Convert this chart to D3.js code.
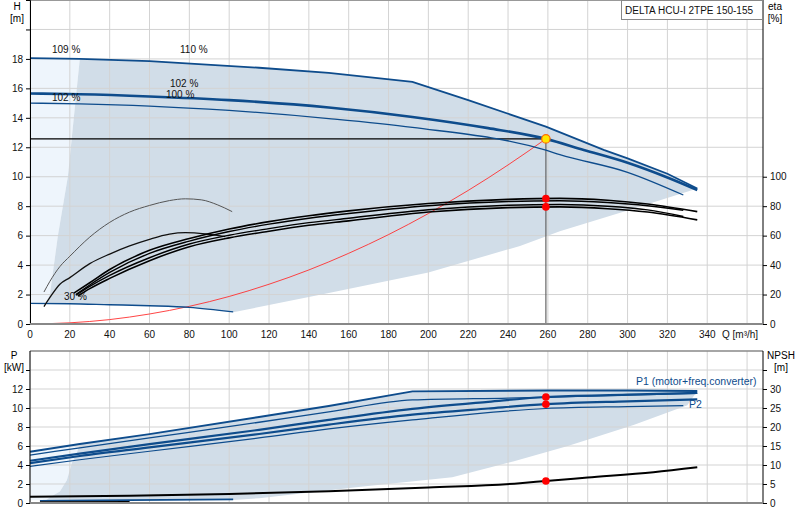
<!DOCTYPE html>
<html>
<head>
<meta charset="utf-8">
<script src="https://cdn.jsdelivr.net/npm/d3@7"></script>
<style>
  body { margin: 0; background: #fff; }
  svg { display: block; font-family: "Liberation Sans", Arial, sans-serif; }
</style>
</head>
<body>
<div id="chart"></div>
<script>
// ---- ticks ----
var qTicks = [0, 20, 40, 60, 80, 100, 120, 140, 160, 180, 200, 220, 240, 260, 280, 300, 320, 340, 360];
var qLabels = [0, 20, 40, 60, 80, 100, 120, 140, 160, 180, 200, 220, 240, 260, 280, 300, 320, 340];
var hTicks = [0, 2, 4, 6, 8, 10, 12, 14, 16, 18, 20];
var hLabels = [0, 2, 4, 6, 8, 10, 12, 14, 16, 18];
var etaTicks = [0, 20, 40, 60, 80, 100];
var pTicks = [0, 2, 4, 6, 8, 10, 12, 14];
var pLabels = [0, 2, 4, 6, 8, 10, 12];
var npshTicks = [0, 5, 10, 15, 20, 25, 30, 35];
var npshLabels = [0, 5, 10, 15, 20, 25, 30];

// ---- head curves (Q m3/h, H m) ----
var hMaxQ = [0, 25, 60, 115, 150, 192, 220, 259, 288, 300, 320, 335];
var hMax  = [18.05, 18.0, 17.85, 17.4, 17.05, 16.44, 15.2, 13.4, 11.82, 11.25, 10.2, 9.2];
var hDutyQ = [0, 25, 60, 100, 150, 192, 230, 259, 278, 300, 320, 335];
var hDuty  = [15.65, 15.6, 15.45, 15.2, 14.7, 14.06, 13.3, 12.57, 11.82, 10.95, 9.95, 9.1];
var hLowQ = [0, 25, 60, 100, 150, 192, 259, 266, 300, 328];
var hLow  = [15.0, 14.95, 14.8, 14.5, 13.95, 13.35, 11.8, 11.5, 10.3, 8.76];
var hMinQ = [0, 20, 40, 60, 80, 102];
var hMin  = [1.4, 1.38, 1.31, 1.24, 1.13, 0.82];
var sysQ = [0, 20, 40, 60, 80, 100, 120, 140, 160, 180, 200, 220, 240, 259];
var sysH = [0, 0.08, 0.3, 0.68, 1.2, 1.87, 2.7, 3.67, 4.8, 6.07, 7.5, 9.07, 10.8, 12.57];

// operating range boundaries (top panel)
var hLeftQ = [8, 10, 14, 19, 22, 25];
var hLeft  = [1.4, 2.0, 6.0, 10.0, 14.0, 18.0];
var hRightQ = [335, 300, 266, 246, 200, 150, 102];
var hRight  = [9.2, 7.7, 6.3, 5.3, 3.5, 2.1, 0.8];

// ---- efficiency curves (Q, eta %) ----
var etaAQ = [22, 30, 40, 60, 80, 100, 120, 140, 160, 200, 240, 266, 290, 310, 335];
var etaA  = [21, 28, 37, 50, 58, 64.5, 69.5, 73.5, 76.8, 81.8, 84.6, 85.3, 84, 81.5, 76.3];
var etaA2Q = [23, 30, 40, 60, 80, 100, 120, 140, 160, 200, 240, 266, 290, 310, 328];
var etaA2  = [20, 26.5, 35, 48, 56.3, 62.8, 67.8, 71.8, 75, 80.3, 83.2, 83.7, 82.5, 80.3, 77.2];
var etaB2Q = [23, 30, 40, 60, 80, 100, 120, 140, 160, 200, 240, 266, 290, 310, 328];
var etaB2  = [19.5, 25.5, 33, 45, 54.3, 60.3, 64.8, 68.8, 71.8, 77.6, 80.6, 81.1, 80, 77.5, 73];
var etaBQ = [24, 30, 40, 60, 80, 100, 120, 140, 160, 200, 240, 266, 290, 310, 335];
var etaB  = [19, 24, 31, 43, 52.5, 58.5, 63, 67, 70, 76, 79, 79.5, 78.3, 76, 70.7];
var etaPart1Q = [7, 10, 15, 20, 30, 40, 50, 60, 70, 78, 86, 94, 101.5];
var etaPart1  = [21.7, 29, 39, 46, 59, 69, 76, 80.5, 83.8, 85, 84.3, 81, 76.3];
var etaPart2Q = [7, 10, 15, 20, 30, 40, 50, 60, 70, 78, 88, 98];
var etaPart2  = [11.8, 18, 27, 31.5, 41, 47.5, 53, 57.5, 61, 62, 61.2, 59.3];

// ---- power curves (Q, P kW) ----
var p1MaxQ = [0, 25, 60, 115, 150, 192, 260, 300, 335];
var p1Max  = [5.4, 6.2, 7.25, 9.05, 10.2, 11.75, 11.85, 11.85, 11.8];
var p2MaxQ = [0, 25, 60, 115, 150, 192, 240, 300, 335];
var p2Max  = [5.05, 5.8, 6.85, 8.5, 9.6, 10.85, 11.05, 11.35, 11.55];
var p1DutyQ = [0, 25, 60, 115, 150, 192, 230, 259, 300, 335];
var p1Duty  = [4.45, 5.2, 6.2, 7.7, 8.75, 9.9, 10.65, 11.16, 11.4, 11.6];
var p2DutyQ = [0, 25, 60, 115, 150, 192, 230, 259, 300, 335];
var p2Duty  = [4.2, 4.95, 5.85, 7.26, 8.25, 9.3, 9.95, 10.4, 10.7, 10.9];
var p2LowQ = [0, 25, 60, 115, 150, 192, 259, 300, 328];
var p2Low  = [3.85, 4.55, 5.45, 6.85, 7.8, 8.75, 9.95, 10.15, 10.25];
var pMinQ = [5, 50, 102];
var pMin  = [0.24, 0.3, 0.38];
var p1MinQ = [5, 50];
var p1Min  = [0.08, 0.1];
var npshQ = [0, 50, 100, 150, 200, 246, 259, 280, 313, 335];
var npsh  = [1.65, 1.9, 2.4, 3.1, 4.1, 5.2, 5.8, 6.7, 8.1, 9.4];

// operating range boundaries (bottom panel)
var pLeftQ = [8, 10, 15, 18.5, 21, 23.5, 25];
var pLeft  = [0.3, 0.6, 1.2, 2.4, 4.2, 5.3, 6.2];
var pRightQ = [335, 330, 303, 270, 243, 212, 166, 115, 102, 8];
var pRight  = [11.8, 10.3, 8.2, 6.0, 4.4, 2.7, 1.7, 0.5, 0.32, 0.3];

// duty point
var dutyQ = 259, dutyH = 12.57;
var dutyEta = [85.1, 79.5];
var dutyP = [11.16, 10.4];
var dutyNpsh = 5.8;

function zip(a, b) { return a.map(function (q, i) { return [q, b[i]]; }); }

var W = 800, H = 520;
var blue = "#0e4c8c", shade = "#d1dde8", pale = "#eef5fc", grid = "#d3d3d3";
var fs = 10;

var svg = d3.select("#chart").append("svg").attr("width", W).attr("height", H);

var x = d3.scaleLinear().domain([0, 368]).range([30, 763]);
var yH = d3.scaleLinear().domain([0, 22]).range([324, 0]);
var yEta = d3.scaleLinear().domain([0, 220]).range([324, 0]);
var yP = d3.scaleLinear().domain([0, 16]).range([503, 351]);
var yN = d3.scaleLinear().domain([0, 40]).range([503, 351]);

function lineFor(ys, curve) {
  return d3.line().x(function (d) { return x(d[0]); }).y(function (d) { return ys(d[1]); }).curve(curve || d3.curveMonotoneX);
}
function polyFor(ys) {
  return d3.line().x(function (d) { return x(d[0]); }).y(function (d) { return ys(d[1]); });
}

// ================= TOP PANEL =================
var gTop = svg.append("g");

// pale region left of operating range
var palePts = [[0, hMax[0]]].concat(zip(hLeftQ, hLeft).reverse()).concat([[0, hMin[0]]]);
gTop.append("path").attr("d", polyFor(yH)(palePts)).attr("fill", pale);

// operating range
var maxPart = zip(hMaxQ, hMax).filter(function (d) { return d[0] >= 25; });
var minPart = zip(hMinQ, hMin).filter(function (d) { return d[0] >= 8; }).reverse();
var rangePts = maxPart.concat(zip(hRightQ, hRight)).concat(minPart).concat(zip(hLeftQ, hLeft));
gTop.append("path").attr("d", polyFor(yH)(rangePts)).attr("fill", shade);

// grid
gTop.selectAll(".vg").data(qTicks).enter().append("line")
  .attr("x1", function (d) { return x(d); }).attr("x2", function (d) { return x(d); })
  .attr("y1", 0).attr("y2", 324).attr("stroke", grid);
gTop.selectAll(".hg").data(hTicks.slice(1)).enter().append("line")
  .attr("x1", 30).attr("x2", 763)
  .attr("y1", function (d) { return yH(d); }).attr("y2", function (d) { return yH(d); }).attr("stroke", grid);
gTop.append("line").attr("x1", 30).attr("x2", 763).attr("y1", 0.5).attr("y2", 0.5).attr("stroke", "#999");

// duty lines
gTop.append("line").attr("x1", x(0)).attr("x2", x(dutyQ)).attr("y1", yH(dutyH)).attr("y2", yH(dutyH))
  .attr("stroke", "#000").attr("stroke-width", 1.2);
gTop.append("line").attr("x1", x(dutyQ)).attr("x2", x(dutyQ)).attr("y1", yH(dutyH)).attr("y2", yH(0))
  .attr("stroke", "#666").attr("stroke-width", 1.2);

// system curve
gTop.append("path").attr("d", lineFor(yH)(zip(sysQ, sysH))).attr("fill", "none").attr("stroke", "#ff3030").attr("stroke-width", 0.9);

// head curves (max curve has a kink where the power limit starts)
gTop.append("path").attr("d", lineFor(yH, d3.curveLinear)(zip(hMaxQ, hMax))).attr("fill", "none")
  .attr("stroke", blue).attr("stroke-width", 1.8);
[[hDutyQ, hDuty, 2.6], [hLowQ, hLow, 1.3], [hMinQ, hMin, 1.4]].forEach(function (c) {
  gTop.append("path").attr("d", lineFor(yH)(zip(c[0], c[1]))).attr("fill", "none")
    .attr("stroke", blue).attr("stroke-width", c[2]);
});

// efficiency curves
[[etaPart1Q, etaPart1, 1, "#555"], [etaPart2Q, etaPart2, 1.3, "#111"],
 [etaAQ, etaA, 1.6, "#000"], [etaA2Q, etaA2, 1.4, "#000"], [etaB2Q, etaB2, 1.4, "#000"], [etaBQ, etaB, 1.6, "#000"]].forEach(function (c) {
  gTop.append("path").attr("d", lineFor(yEta)(zip(c[0], c[1]))).attr("fill", "none")
    .attr("stroke", c[3]).attr("stroke-width", c[2]);
});

// curve labels
var hLabelsTxt = [["109 %", 52, 52.5], ["110 %", 180, 52.5], ["102 %", 170, 87], ["100 %", 166, 98], ["102 %", 52, 100.5], ["30 %", 64, 299.5]];
gTop.selectAll(".cl").data(hLabelsTxt).enter().append("text")
  .attr("x", function (d) { return d[1]; }).attr("y", function (d) { return d[2]; })
  .attr("font-size", fs).attr("fill", "#111").text(function (d) { return d[0]; });

// duty points
gTop.selectAll(".ed").data(dutyEta).enter().append("circle")
  .attr("cx", x(dutyQ)).attr("cy", function (d) { return yEta(d); }).attr("r", 3.8).attr("fill", "#ff0000");
gTop.append("circle").attr("cx", x(dutyQ)).attr("cy", yH(dutyH)).attr("r", 4.2)
  .attr("fill", "#ffe600").attr("stroke", "#ff6a00").attr("stroke-width", 1.2);

// axes
gTop.append("g").attr("transform", "translate(30,0)")
  .call(d3.axisLeft(yH).tickValues(hTicks).tickSize(4).tickFormat(function (d) { return hLabels.indexOf(d) >= 0 ? d : ""; }));
var axR = gTop.append("g").attr("transform", "translate(763,0)")
  .call(d3.axisRight(yEta).tickValues(etaTicks).tickSize(4));
axR.select(".domain").attr("d", "M0,0V324");
gTop.append("line").attr("x1", 30).attr("x2", 763).attr("y1", 324).attr("y2", 324).attr("stroke", "#888").attr("stroke-width", 2);
gTop.selectAll(".xl").data(qLabels).enter().append("text")
  .attr("x", function (d) { return x(d); }).attr("y", 338).attr("text-anchor", "middle")
  .attr("font-size", fs).attr("fill", "#111").text(function (d) { return d; });
gTop.append("text").attr("x", 722).attr("y", 338).attr("font-size", fs).attr("fill", "#111").text("Q [m³/h]");
gTop.append("text").attr("x", 17).attr("y", 10).attr("text-anchor", "middle").attr("font-size", fs).text("H");
gTop.append("text").attr("x", 17).attr("y", 22).attr("text-anchor", "middle").attr("font-size", fs).text("[m]");
gTop.append("text").attr("x", 775).attr("y", 10).attr("text-anchor", "middle").attr("font-size", fs).text("eta");
gTop.append("text").attr("x", 775).attr("y", 22).attr("text-anchor", "middle").attr("font-size", fs).text("[%]");

// title box
gTop.append("rect").attr("x", 621.5).attr("y", 0.5).attr("width", 141).attr("height", 19)
  .attr("fill", "#fff").attr("stroke", "#888");
gTop.append("text").attr("x", 625).attr("y", 13.5).attr("font-size", fs).attr("fill", "#111").text("DELTA HCU-I 2TPE 150-155");

// ================= BOTTOM PANEL =================
var gBot = svg.append("g");

var palePPts = [[0, p1Max[0]]].concat(zip(pLeftQ, pLeft).reverse()).concat([[0, pLeft[0]]]);
gBot.append("path").attr("d", polyFor(yP)(palePPts)).attr("fill", pale);

var p1Part = zip(p1MaxQ, p1Max).filter(function (d) { return d[0] >= 25; });
var pRangePts = p1Part.concat(zip(pRightQ, pRight)).concat(zip(pLeftQ, pLeft));
gBot.append("path").attr("d", polyFor(yP)(pRangePts)).attr("fill", shade);

gBot.selectAll(".vg").data(qTicks).enter().append("line")
  .attr("x1", function (d) { return x(d); }).attr("x2", function (d) { return x(d); })
  .attr("y1", 351).attr("y2", 503).attr("stroke", grid);
gBot.selectAll(".hg").data(pTicks.slice(1)).enter().append("line")
  .attr("x1", 30).attr("x2", 763)
  .attr("y1", function (d) { return yP(d); }).attr("y2", function (d) { return yP(d); }).attr("stroke", grid);
gBot.append("line").attr("x1", 30).attr("x2", 763).attr("y1", 351).attr("y2", 351).attr("stroke", "#888").attr("stroke-width", 1.5);

gBot.append("path").attr("d", lineFor(yP, d3.curveLinear)(zip(p1MaxQ, p1Max))).attr("fill", "none")
  .attr("stroke", blue).attr("stroke-width", 2);
[[p2MaxQ, p2Max, 1.3], [p1DutyQ, p1Duty, 2.2], [p2DutyQ, p2Duty, 2.2], [p2LowQ, p2Low, 1.2], [pMinQ, pMin, 1.6]].forEach(function (c) {
  gBot.append("path").attr("d", lineFor(yP)(zip(c[0], c[1]))).attr("fill", "none")
    .attr("stroke", blue).attr("stroke-width", c[2]);
});
gBot.append("path").attr("d", lineFor(yP)(zip(p1MinQ, p1Min))).attr("fill", "none").attr("stroke", "#000").attr("stroke-width", 2);
gBot.append("path").attr("d", lineFor(yN)(zip(npshQ, npsh))).attr("fill", "none").attr("stroke", "#000").attr("stroke-width", 2);

gBot.selectAll(".pd").data(dutyP).enter().append("circle")
  .attr("cx", x(dutyQ)).attr("cy", function (d) { return yP(d); }).attr("r", 3.8).attr("fill", "#ff0000");
gBot.append("circle").attr("cx", x(dutyQ)).attr("cy", yN(dutyNpsh)).attr("r", 3.8).attr("fill", "#ff0000");

gBot.append("text").attr("x", 636).attr("y", 385).attr("font-size", 10.5).attr("fill", blue).text("P1 (motor+freq.converter)");
gBot.append("text").attr("x", 689).attr("y", 408).attr("font-size", 10.5).attr("fill", blue).text("P2");

gBot.append("g").attr("transform", "translate(30,0)")
  .call(d3.axisLeft(yP).tickValues(pTicks).tickSize(4).tickFormat(function (d) { return pLabels.indexOf(d) >= 0 ? d : ""; }))
  .select(".domain").attr("d", "M0,351V503");
gBot.append("g").attr("transform", "translate(763,0)")
  .call(d3.axisRight(yN).tickValues(npshTicks).tickSize(4).tickFormat(function (d) { return npshLabels.indexOf(d) >= 0 ? d : ""; }))
  .select(".domain").attr("d", "M0,351V503");
gBot.append("line").attr("x1", 30).attr("x2", 763).attr("y1", 503).attr("y2", 503).attr("stroke", "#888").attr("stroke-width", 2);
gBot.append("text").attr("x", 14).attr("y", 359).attr("text-anchor", "middle").attr("font-size", fs).text("P");
gBot.append("text").attr("x", 14).attr("y", 371).attr("text-anchor", "middle").attr("font-size", fs).text("[kW]");
gBot.append("text").attr("x", 781).attr("y", 359).attr("text-anchor", "middle").attr("font-size", fs).text("NPSH");
gBot.append("text").attr("x", 781).attr("y", 371).attr("text-anchor", "middle").attr("font-size", fs).text("[m]");

// axis styling
svg.selectAll(".tick text").attr("font-size", fs).attr("fill", "#111").attr("font-family", "Liberation Sans, Arial, sans-serif");
svg.selectAll(".tick line").attr("stroke", "#000");
svg.selectAll(".domain").attr("stroke", "#000");
</script>
</body>
</html>
